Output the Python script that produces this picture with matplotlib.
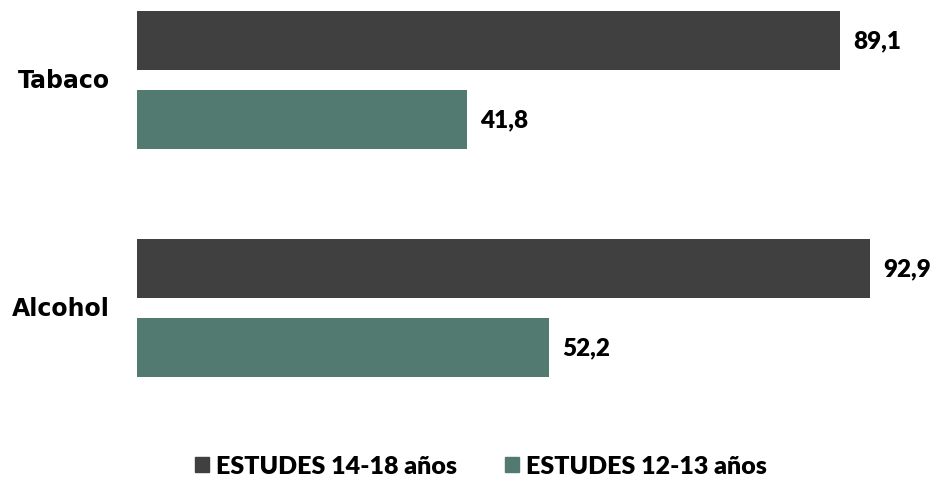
import matplotlib.pyplot as plt
from matplotlib.patches import Patch

# Data
categories = ["Tabaco", "Alcohol"]
series_names = ["ESTUDES 14-18 años", "ESTUDES 12-13 años"]
values_14_18 = [89.1, 92.9]
values_12_13 = [41.8, 52.2]
colors = ["#404040", "#537a70"]

plt.rcParams['font.family'] = ['Lato', 'DejaVu Sans']

fig = plt.figure(figsize=(9.36, 4.85), dpi=100)
ax = fig.add_axes([137 / 936, 1 - 420 / 485, 1 - 137 / 936, 420 / 485])

ypos = [1, 0]
h = 0.259
off = 0.173
for vals, col, sign in [(values_14_18, colors[0], 1), (values_12_13, colors[1], -1)]:
    ys = [y + sign * off for y in ypos]
    ax.barh(ys, vals, height=h, color=col)
    for y, v in zip(ys, vals):
        ax.text(v + 1.65, y, f"{v:.1f}".replace(".", ","), va="center", ha="left",
                fontsize=17.5, fontweight="heavy", color="black")

for y, c in zip(ypos, categories):
    ax.text(-3.4, y, c, va="center", ha="right", fontsize=17, fontweight="bold",
            color="black", family=["DejaVu Sans"])

ax.set_xlim(0, 799 / 7.89)
ax.set_ylim(-0.487, 1 + 81 / 228)
ax.axis("off")

handles = [Patch(color=c) for c in colors]
fig.legend(handles, series_names, loc="center", bbox_to_anchor=(481 / 936, 1 - 467 / 485),
           ncol=2, frameon=False, prop={"size": 18, "weight": "heavy"},
           handlelength=0.56, handleheight=0.56, handletextpad=0.3, columnspacing=1.9)

plt.savefig("out.png", dpi=100)
